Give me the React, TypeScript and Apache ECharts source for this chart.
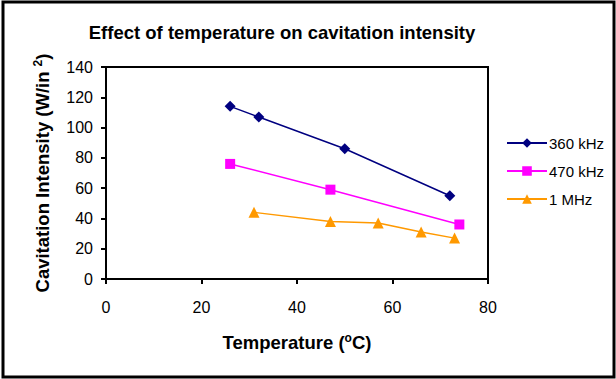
import React, { useEffect, useRef } from "react";
import * as echarts from "echarts";

const seriesNames = ["360 kHz", "470 kHz", "1 MHz"];
const temp360 = [26, 32, 50, 72];
const int360 = [114, 107, 86, 55];
const temp470 = [26, 47, 74];
const int470 = [76, 59, 36];
const temp1M = [31, 47, 57, 66, 73];
const int1M = [44, 38, 37, 31, 27];
const xTicks = [0, 20, 40, 60, 80];
const yTicks = [0, 20, 40, 60, 80, 100, 120, 140];

const zip = (xs: number[], ys: number[]) => xs.map((x, i) => [x, ys[i]]);

export default function App() {
  const ref = useRef<HTMLDivElement>(null);
  useEffect(() => {
    const chart = echarts.init(ref.current!, null, { renderer: "svg" });
    const font = "Liberation Sans, Arial, sans-serif";
    const titleRich = {
      a: { fontFamily: font, fontSize: 18.5, fontWeight: "bold", color: "#000" },
      s: { fontFamily: font, fontSize: 12, fontWeight: "bold", color: "#000", verticalAlign: "top", padding: [0, 0, 8, 0] },
    };
    chart.setOption({
      animation: false,
      backgroundColor: "#ffffff",
      textStyle: { fontFamily: font },
      title: {
        text: "Effect of temperature on cavitation intensity",
        left: 277,
        textAlign: "center",
        top: 18,
        textStyle: { fontFamily: font, fontSize: 18.5, fontWeight: "bold", color: "#000" },
      },
      legend: {
        orient: "vertical",
        left: 501,
        top: 130,
        itemGap: 12,
        itemWidth: 40,
        itemHeight: 12,
        data: seriesNames,
        textStyle: { fontFamily: font, fontSize: 15, lineHeight: 16, color: "#000", padding: [0, 0, 0, -3] },
      },
      grid: { left: 106, top: 67, width: 382, height: 212 },
      xAxis: {
        type: "value",
        min: xTicks[0],
        max: xTicks[xTicks.length - 1],
        interval: 20,
        splitLine: { show: false },
        axisLine: { onZero: false, lineStyle: { color: "#000", width: 2 } },
        axisTick: { inside: false, length: 5, lineStyle: { color: "#000", width: 2 } },
        axisLabel: { margin: 20, fontFamily: font, fontSize: 16, color: "#000" },
        name: "{a|Temperature (}{s|o}{a|C)}",
        nameLocation: "middle",
        nameGap: 53,
        nameTextStyle: { rich: titleRich },
      },
      yAxis: {
        type: "value",
        min: yTicks[0],
        max: yTicks[yTicks.length - 1],
        interval: 20,
        splitLine: { show: false },
        axisLine: { onZero: false, lineStyle: { color: "#000", width: 2 } },
        axisTick: { inside: false, length: 5, lineStyle: { color: "#000", width: 2 } },
        axisLabel: { margin: 13, fontFamily: font, fontSize: 16, color: "#000" },
        name: "{a|Cavitation Intensity (W/in }{s|2}{a|)}",
        nameLocation: "middle",
        nameGap: 54,
        nameTextStyle: { rich: titleRich },
      },
      graphic: [
        {
          type: "rect",
          shape: { x: 106, y: 67, width: 382, height: 212 },
          style: { fill: "none", stroke: "#000", lineWidth: 2 },
          silent: true,
          z: 10,
        },
        {
          type: "rect",
          shape: { x: 3, y: 2, width: 611, height: 375 },
          style: { fill: "none", stroke: "#000", lineWidth: 3 },
          silent: true,
          z: 10,
        },
      ],
      series: [
        {
          name: seriesNames[0],
          type: "line",
          data: zip(temp360, int360),
          color: "#000080",
          symbol: "diamond",
          symbolSize: 11,
          lineStyle: { color: "#000080", width: 1.5 },
          itemStyle: { color: "#000080" },
        },
        {
          name: seriesNames[1],
          type: "line",
          data: zip(temp470, int470),
          color: "#FF00FF",
          symbol: "rect",
          symbolSize: 10,
          lineStyle: { color: "#FF00FF", width: 1.5 },
          itemStyle: { color: "#FF00FF" },
        },
        {
          name: seriesNames[2],
          type: "line",
          data: zip(temp1M, int1M),
          color: "#FF9900",
          symbol: "triangle",
          symbolSize: 11,
          lineStyle: { color: "#FF9900", width: 1.5 },
          itemStyle: { color: "#FF9900" },
        },
      ],
    });
    return () => chart.dispose();
  }, []);
  return <div ref={ref} style={{ width: 616, height: 379, position: "absolute", left: 0, top: 0 }} />;
}
